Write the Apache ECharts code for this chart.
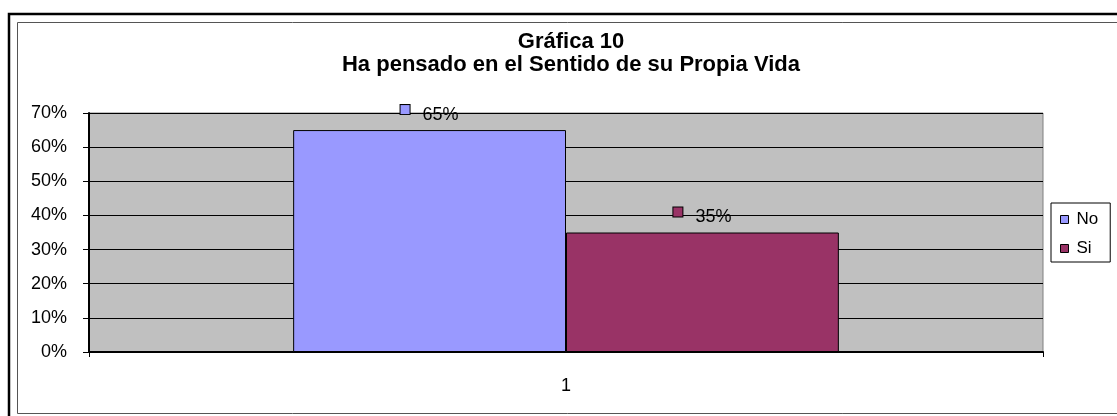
<!DOCTYPE html>
<html>
<head>
<meta charset="utf-8">
<script src="https://cdn.jsdelivr.net/npm/echarts@6/dist/echarts.min.js"></script>
<style>
  html, body { margin: 0; padding: 0; background: #fff; }
  #chart { width: 1117px; height: 416px; }
</style>
</head>
<body>
<div id="chart"></div>
<script>
const categories = ['1']
const seriesNames = ['No', 'Si']
const noValues = [0.65]
const siValues = [0.35]
const yTicks = [0, 0.1, 0.2, 0.3, 0.4, 0.5, 0.6, 0.7]
const colors = ['#9999ff', '#993366']

const chart = echarts.init(document.getElementById('chart'))

function pct (v) { return Math.round(v * 100) + '%' }

function makeLabel (color) {
  return {
    show: true,
    position: 'top',
    distance: 5,
    formatter: p => '{k|}{v|' + pct(p.value) + '}',
    rich: {
      k: {
        width: 9, height: 9,
        backgroundColor: color,
        borderColor: '#000', borderWidth: 1,
        verticalAlign: 'top'
      },
      v: {
        fontFamily: 'Liberation Sans, Arial', fontSize: 18, color: '#000',
        lineHeight: 20, padding: [0, 0, 0, 13]
      }
    }
  }
}

chart.setOption({
  animation: false,
  textStyle: { fontFamily: 'Liberation Sans, Arial' },
  graphic: [
    { type: 'rect', shape: { x: 9, y: 14, width: 1200, height: 500 }, style: { fill: 'none', stroke: '#000', lineWidth: 2.5 } },
    { type: 'rect', shape: { x: 17.5, y: 22.5, width: 1200, height: 391 }, style: { fill: 'none', stroke: '#555', lineWidth: 1 } }
  ],
  title: {
    text: 'Gráfica 10\nHa pensado en el Sentido de su Propia Vida',
    left: 566, top: 25, textAlign: 'center',
    textStyle: { fontFamily: 'Liberation Sans, Arial', fontSize: 22, fontWeight: 'bold', color: '#000', lineHeight: 23 }
  },
  legend: {
    orient: 'vertical',
    left: 1051, top: 203,
    data: seriesNames,
    icon: 'rect',
    itemWidth: 8, itemHeight: 8,
    itemGap: 12,
    padding: [8, 12, 5, 9],
    borderColor: '#000', borderWidth: 1,
    backgroundColor: '#fff',
    textStyle: { fontFamily: 'Liberation Sans, Arial', fontSize: 17, color: '#000', padding: [0, 0, 0, 3] },
    itemStyle: { borderColor: '#000', borderWidth: 1 }
  },
  grid: {
    left: 89, right: 74, top: 113, bottom: 64,
    show: true, backgroundColor: '#c0c0c0', borderColor: '#808080', borderWidth: 1
  },
  xAxis: {
    type: 'category',
    data: categories,
    axisLine: { lineStyle: { color: '#000', width: 2 } },
    axisTick: { show: true, length: 5, lineStyle: { color: '#000' } },
    axisLabel: { fontSize: 18, color: '#000', margin: 25 }
  },
  yAxis: {
    type: 'value',
    min: yTicks[0], max: yTicks[yTicks.length - 1], interval: 0.1,
    axisLine: { show: true, lineStyle: { color: '#000', width: 2 } },
    axisTick: { show: true, length: 6, lineStyle: { color: '#000' } },
    splitLine: { lineStyle: { color: '#000', width: 1 } },
    axisLabel: { fontSize: 18, color: '#000', margin: 22, padding: [6, 0, 0, 0], formatter: v => pct(v) }
  },
  series: [
    {
      name: seriesNames[0], type: 'bar', data: noValues,
      barGap: 0, barCategoryGap: '42.8%',
      itemStyle: { color: colors[0], borderColor: '#000', borderWidth: 1 },
      label: makeLabel(colors[0])
    },
    {
      name: seriesNames[1], type: 'bar', data: siValues,
      itemStyle: { color: colors[1], borderColor: '#000', borderWidth: 1 },
      label: makeLabel(colors[1])
    }
  ]
})

window.onresize = function () { chart.resize() }
</script>
</body>
</html>
